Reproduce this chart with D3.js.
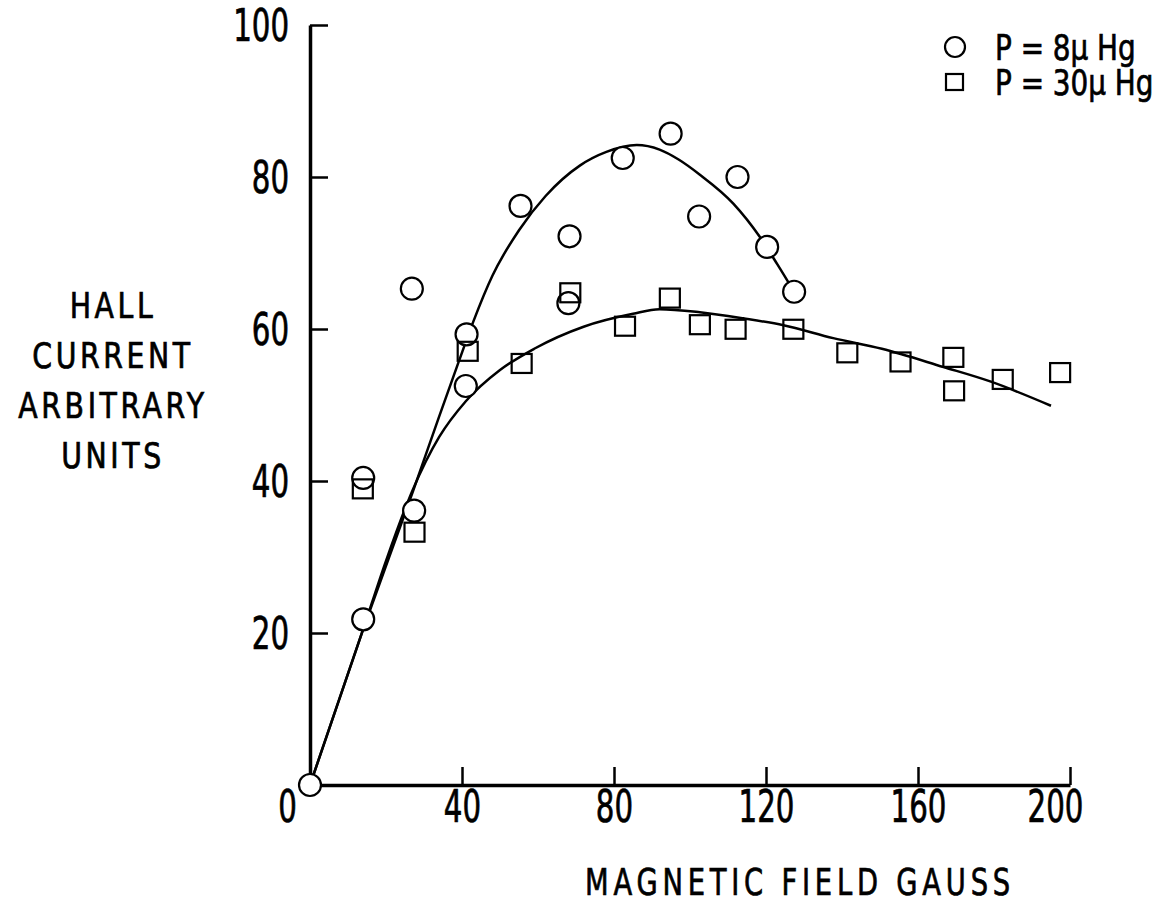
<!DOCTYPE html>
<html>
<head>
<meta charset="utf-8">
<script src="https://cdn.jsdelivr.net/npm/d3@7"></script>
<style>
  body { margin: 0; background: #fff; }
  svg text { font-family: "DejaVu Sans Condensed", "DejaVu Sans", sans-serif; fill: #000; stroke: #000; stroke-width: 0.7; }
</style>
</head>
<body>
<svg id="chart" width="1175" height="904"></svg>
<script>
// measured points, P = 8 micron Hg (circles)
const lowPressurePoints = [
  [0, 0], [14, 21.8], [14, 40.4], [26.8, 65.3], [27.4, 36.1], [41.2, 59.3],
  [41, 52.5], [55.4, 76.2], [68.3, 72.2], [68, 63.4], [82.3, 82.5],
  [94.9, 85.7], [102.4, 74.8], [112.5, 80], [120.3, 70.8], [127.4, 64.9]
];
// measured points, P = 30 micron Hg (squares)
const highPressurePoints = [
  [13.9, 38.9], [27.5, 33.2], [41.5, 57], [55.7, 55.4], [68.5, 64.7],
  [82.9, 60.3], [94.7, 64], [102.6, 60.5], [112, 59.9], [127.2, 59.9],
  [141.4, 56.8], [155.4, 55.6], [169.3, 56.2], [169.5, 51.8], [182.3, 53.3],
  [197.4, 54.2]
];
// hand drawn fit curves
const lowPressureFit = [
  [0, 0], [14, 20.5], [27, 38.5], [34, 48.5], [39, 55.5], [43, 61], [48, 67],
  [55, 73], [62, 77.5], [71, 81.5], [78, 83.3], [86, 84.2], [92, 83.6],
  [97, 82.3], [102.6, 80.3], [111.4, 76.5], [118.4, 72.1], [123, 68.5],
  [127.4, 64.9]
];
const highPressureFit = [
  [0, 0], [14, 20.5], [20, 29.5], [27, 38.8], [34, 45.8], [41, 50.5],
  [50, 54.6], [59, 57.4], [72, 60.3], [85, 62], [92, 62.6], [102.6, 62.2],
  [114, 61.4], [124.6, 60.5], [137.7, 58.8], [150.5, 57.4], [166.7, 55],
  [179, 53.1], [195, 49.9]
];
const xTicks = [0, 40, 80, 120, 160, 200];
const yTicks = [20, 40, 60, 80, 100];
const legendLabels = ['P = 8\u03bc Hg', 'P = 30\u03bc Hg'];
const yTitleLines = ['HALL', 'CURRENT', 'ARBITRARY', 'UNITS'];
const xTitle = 'MAGNETIC FIELD GAUSS';

const svg = d3.select('#chart');
const x = d3.scaleLinear().domain([0, 200]).range([310, 1070]);
const y = d3.scaleLinear().domain([0, 100]).range([785, 25]);

// the original lettering is a tall condensed face: squeeze text horizontally
function squeeze(sel, s) {
  sel.each(function () {
    const t = d3.select(this);
    const tx = +t.attr('x') || 0;
    t.attr('x', tx / s).attr('transform', `scale(${s},1)`);
  });
}

// Axes with inward ticks
const xAxis = svg.append('g')
  .attr('transform', `translate(0,${y(0)})`)
  .call(d3.axisBottom(x).tickValues(xTicks).tickSize(-18).tickSizeOuter(0).tickPadding(6));
const yAxis = svg.append('g')
  .attr('transform', `translate(${x(0)},0)`)
  .call(d3.axisLeft(y).tickValues(yTicks).tickSize(-18).tickSizeOuter(0).tickPadding(21));

[xAxis, yAxis].forEach((a) => {
  a.select('.domain').attr('stroke', '#000').attr('stroke-width', 3.5);
  a.selectAll('.tick line').attr('stroke', '#000').attr('stroke-width', 2.5);
  a.selectAll('.tick text').attr('font-size', 44).attr('font-family', null).attr('fill', null);
});
yAxis.selectAll('.tick text').attr('dy', '0.36em');
// first and last x labels sit a bit left of their ticks in the original
xAxis.selectAll('.tick text').attr('x', (d) => (d === 0 ? -23 : d === 200 ? -15 : 0));
squeeze(xAxis.selectAll('.tick text'), 0.74);
squeeze(yAxis.selectAll('.tick text'), 0.74);

// fit curves
const line = d3.line()
  .x((d) => x(d[0]))
  .y((d) => y(d[1]))
  .curve(d3.curveMonotoneX);

svg.selectAll('path.fit')
  .data([lowPressureFit, highPressureFit])
  .enter()
  .append('path')
  .attr('class', 'fit')
  .attr('d', line)
  .attr('fill', 'none')
  .attr('stroke', '#000')
  .attr('stroke-width', 2.5);

// markers
svg.selectAll('circle.pt')
  .data(lowPressurePoints)
  .enter()
  .append('circle')
  .attr('class', 'pt')
  .attr('cx', (d) => x(d[0]))
  .attr('cy', (d) => y(d[1]))
  .attr('r', 11)
  .attr('fill', '#fff')
  .attr('stroke', '#000')
  .attr('stroke-width', 2.2);

svg.selectAll('rect.pt')
  .data(highPressurePoints)
  .enter()
  .append('rect')
  .attr('class', 'pt')
  .attr('x', (d) => x(d[0]) - 10)
  .attr('y', (d) => y(d[1]) - 10)
  .attr('width', 20)
  .attr('height', 19)
  .attr('fill', 'none')
  .attr('stroke', '#000')
  .attr('stroke-width', 2.2);

// legend
const legend = svg.append('g').attr('transform', 'translate(955,47)');
legend.append('circle').attr('cx', 0).attr('cy', 0).attr('r', 10)
  .attr('fill', 'none').attr('stroke', '#000').attr('stroke-width', 2.2);
legend.append('rect').attr('x', -9).attr('y', 27).attr('width', 17).attr('height', 16)
  .attr('fill', 'none').attr('stroke', '#000').attr('stroke-width', 2.2);
legend.selectAll('g.item')
  .data(legendLabels)
  .enter()
  .append('g')
  .attr('class', 'item')
  .attr('transform', (d, i) => `translate(40,${i * 35}) scale(0.86,1)`)
  .append('text')
  .attr('dy', '0.36em')
  .attr('font-size', 36)
  .text((d) => d);

// axis titles
svg.append('g')
  .selectAll('g')
  .data(yTitleLines)
  .enter()
  .append('g')
  .attr('transform', (d, i) => `translate(113,${305 + i * 50}) scale(0.9,1)`)
  .append('text')
  .attr('dy', '0.36em')
  .attr('text-anchor', 'middle')
  .attr('font-size', 35)
  .attr('letter-spacing', 4)
  .text((d) => d);

svg.append('g')
  .attr('transform', 'translate(800,881) scale(0.8,1)')
  .append('text')
  .attr('dy', '0.36em')
  .attr('text-anchor', 'middle')
  .attr('font-size', 38)
  .attr('letter-spacing', 6)
  .text(xTitle);
</script>
</body>
</html>
